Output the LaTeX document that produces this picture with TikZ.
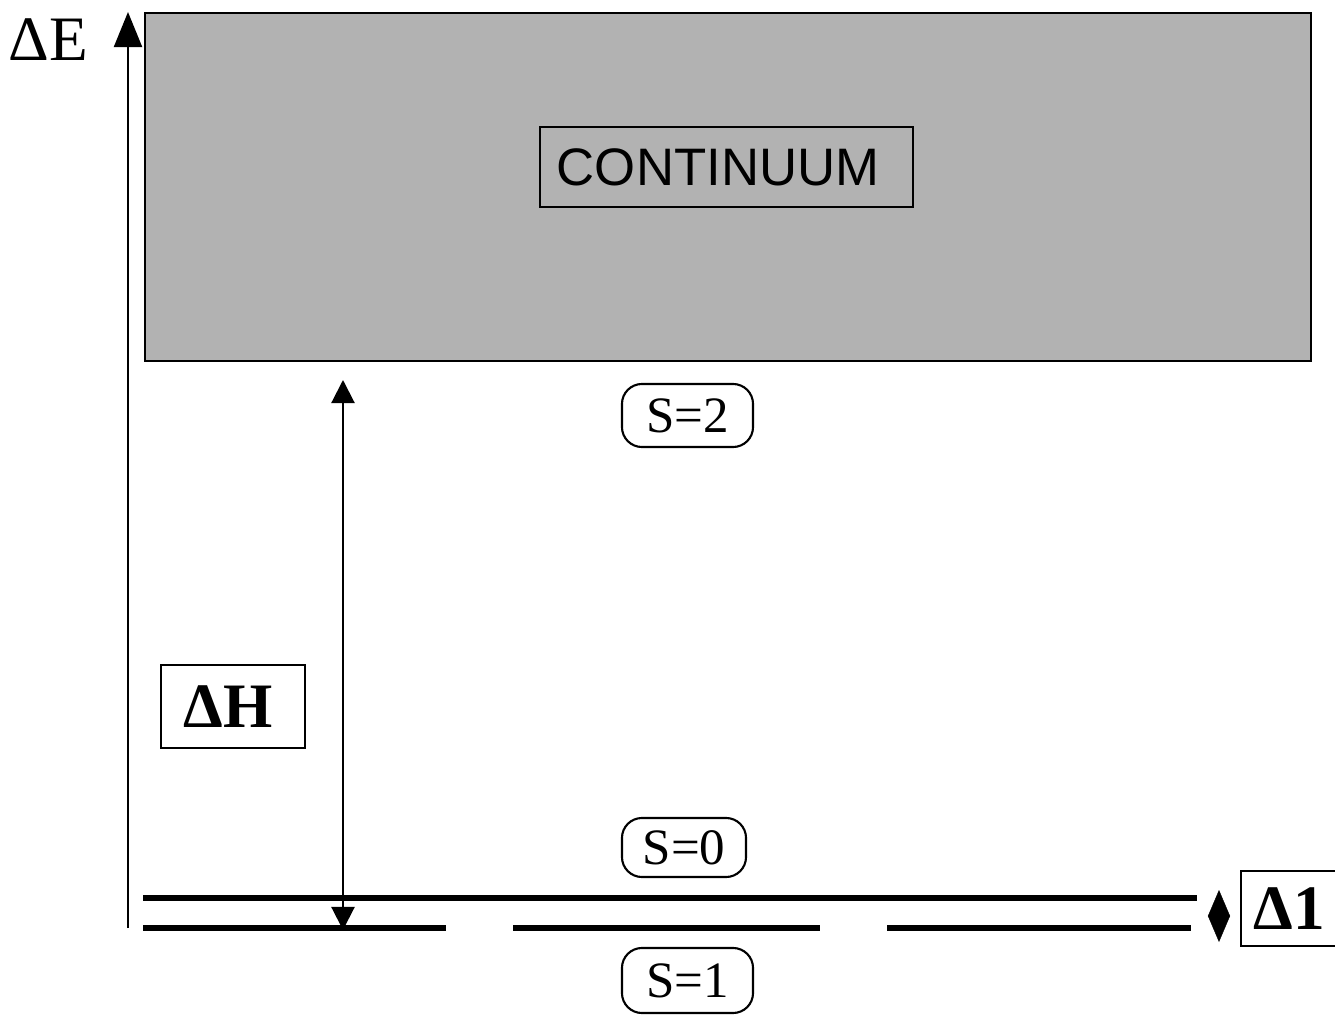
\documentclass[tikz,border=0pt]{standalone}
\usepackage{fontspec}
\setmainfont{Liberation Serif}
\newfontfamily\contfont{Liberation Sans}
\usetikzlibrary{arrows.meta}
\usetikzlibrary{positioning}
\tikzset{levelline/.style = {line width = 1.5pt}}
\tikzset{labbox/.style = {draw, line width = 0.6pt, inner sep = 0}}
\tikzset{spinbox/.style = {draw, line width = 0.6pt, rounded corners = 0.2cm, inner sep = 0, font = \fontsize{14.5}{16}\selectfont}}
\tikzset{biglab/.style = {font = \fontsize{18}{20}\selectfont}}
\definecolor{mgray}{rgb}{0.7, 0.7, 0.7}

\begin{document}
\begin{tikzpicture}[x = 0.01cm, y = -0.01cm]
      \useasboundingbox (0, 0) rectangle (1335, 1015);

      % energy axis
      \coordinate (axbot) at (128, 928);
      \coordinate (axtop) at (128, 12);
      \draw [line width = 0.6pt, -{Triangle[width = 0.28cm, length = 0.35cm]}] (axbot) -- (axtop);
      \node [biglab] (dE) at (48, 40) {ΔE};

      % continuum band
      \node [draw, fill = mgray, line width = 0.6pt, minimum width = 11.66cm, minimum height = 3.48cm, inner sep = 0] (cont) at (728, 187) {};
      \node [labbox, font = \contfont\fontsize{15}{17}\selectfont, inner xsep = 0.17cm, text width = 3.39cm, align = left, minimum height = 0.8cm] (contlab) at (726.5, 167) {CONTINUUM};
      \node [spinbox, minimum width = 1.31cm, minimum height = 0.63cm] (s2) at (687.5, 415.5) {S=2};

      % spin levels
      \coordinate (upA) at (143, 898);
      \coordinate (upB) at (1197, 898);
      \draw [levelline] (upA) -- (upB);
      \coordinate (loA) at (143, 928);
      \coordinate (loB) at (446, 928);
      \coordinate (loC) at (513, 928);
      \coordinate (loD) at (820, 928);
      \coordinate (loE) at (887, 928);
      \coordinate (loF) at (1191, 928);
      \draw [levelline] (loA) -- (loB);
      \draw [levelline] (loC) -- (loD);
      \draw [levelline] (loE) -- (loF);
      \node [spinbox, minimum width = 1.24cm, minimum height = 0.59cm] (s0) at (684, 847.5) {S=0};
      \node [spinbox, minimum width = 1.31cm, minimum height = 0.65cm] (s1) at (687.5, 980.5) {S=1};

      % gap to continuum
      \coordinate (hTop) at (343, 380);
      \coordinate (hBot) at (343, 930);
      \draw [line width = 0.6pt, {Triangle[width = 0.23cm, length = 0.23cm]}-{Triangle[width = 0.23cm, length = 0.23cm]}] (hBot) -- (hTop);
      \node [labbox, font = \bfseries\fontsize{18}{20}\selectfont, minimum width = 1.44cm, minimum height = 0.83cm] (dH) at (233, 706.5) {\hspace{-0.1cm}ΔH};

      % singlet-triplet gap
      \coordinate (gTop) at (1219, 890);
      \coordinate (gBot) at (1219, 942);
      \draw [line width = 0.1pt, {Triangle[width = 0.22cm, length = 0.26cm]}-{Triangle[width = 0.22cm, length = 0.26cm]}] (gBot) -- (gTop);
      \node [labbox, font = \bfseries\fontsize{18}{20}\selectfont, minimum width = 0.96cm, minimum height = 0.75cm] (d1) at (1289, 908.5) {Δ1};
    \end{tikzpicture}
\end{document}
